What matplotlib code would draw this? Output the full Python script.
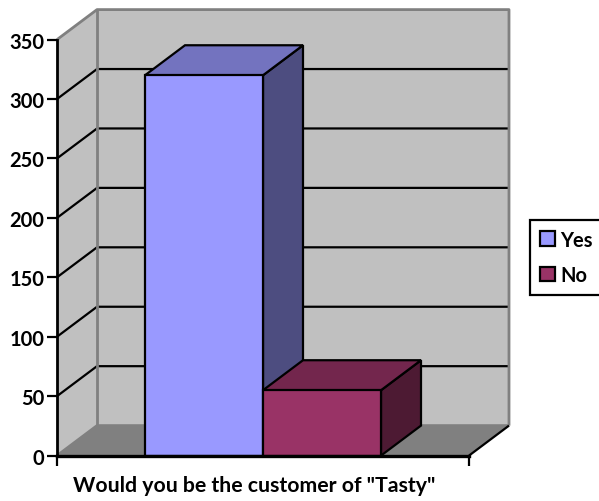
import matplotlib
matplotlib.use("Agg")
import matplotlib.pyplot as plt
from matplotlib.patches import Patch, Polygon

plt.rcParams["font.family"] = ["Lato", "DejaVu Sans"]
plt.rcParams["font.weight"] = "bold"

series = ["Yes", "No"]
values = [320, 55]
yticks = [0, 50, 100, 150, 200, 250, 300, 350]
xlabel = 'Would you be the customer of "Tasty"'

front = ["#9999FF", "#993366"]
top = ["#7373BF", "#73264D"]
side = ["#4D4D80", "#4D1A33"]

W, H = 599, 502
DEPTH_X = 40 / 412
DEPTH_Y = 30 / (416 / 350)
BAR_W = 118 / 412
BAR_START = 88 / 412
LW = 1.6

fig = plt.figure(figsize=(W / 100, H / 100), dpi=100)
axes = fig.add_axes([57 / W, 1 - 456.6 / H, 412 / W, 416 / H])
axes.set_xlim(0, 1)
axes.set_ylim(0, 350)
axes.patch.set_visible(False)


def _poly(points, face, edge="black", lw=LW, z=2):
    axes.add_patch(Polygon(points, closed=True, facecolor=face, edgecolor=edge,
                           linewidth=lw, joinstyle="miter", clip_on=False,
                           zorder=z))


def _line(xs, ys, color="black", lw=LW, z=1.5):
    axes.plot(xs, ys, color=color, linewidth=lw, clip_on=False, zorder=z,
              solid_capstyle="butt")


ymax = yticks[-1]

# walls and floor
_poly([(0, 0), (DEPTH_X, DEPTH_Y), (DEPTH_X, ymax + DEPTH_Y), (0, ymax)],
      "#C0C0C0", edge="none", z=1)
_poly([(DEPTH_X, DEPTH_Y), (1 + DEPTH_X, DEPTH_Y),
       (1 + DEPTH_X, ymax + DEPTH_Y), (DEPTH_X, ymax + DEPTH_Y)],
      "#C0C0C0", edge="none", z=1)
_poly([(0, 0), (1, 0), (1 + DEPTH_X, DEPTH_Y), (DEPTH_X, DEPTH_Y)],
      "#808080", edge="none", z=1.2)

for tick in yticks[1:-1]:
    _line([0, DEPTH_X, 1 + DEPTH_X],
          [tick, tick + DEPTH_Y, tick + DEPTH_Y])

gray = "#808080"
_line([0, DEPTH_X, 1 + DEPTH_X, 1 + DEPTH_X],
      [ymax, ymax + DEPTH_Y, ymax + DEPTH_Y, DEPTH_Y], color=gray, lw=2)
_line([DEPTH_X, DEPTH_X], [DEPTH_Y, ymax + DEPTH_Y], color=gray, lw=2)
_line([0, DEPTH_X, 1 + DEPTH_X], [0, DEPTH_Y, DEPTH_Y], color=gray, lw=2)
_line([1, 1 + DEPTH_X], [0, DEPTH_Y], lw=LW)

# bars
for i, value in enumerate(values):
    x0 = BAR_START + i * BAR_W
    x1 = x0 + BAR_W
    _poly([(x1, 0), (x1 + DEPTH_X, DEPTH_Y), (x1 + DEPTH_X, value + DEPTH_Y),
           (x1, value)], side[i], z=3 + i)
    _poly([(x0, value), (x1, value), (x1 + DEPTH_X, value + DEPTH_Y),
           (x0 + DEPTH_X, value + DEPTH_Y)], top[i], z=3 + i)
    _poly([(x0, 0), (x1, 0), (x1, value), (x0, value)], front[i], z=3 + i)

# axes
for name in ["top", "right"]:
    axes.spines[name].set_visible(False)
axes.spines["left"].set_linewidth(2)
axes.spines["left"].set_zorder(6)
axes.spines["bottom"].set_linewidth(2.4)
axes.spines["bottom"].set_zorder(6)
axes.set_yticks(yticks)
axes.set_xticks([0, 1], labels=["", ""])
axes.tick_params(axis="y", length=7, width=1.6, labelsize=14.5, pad=2)
axes.tick_params(axis="x", length=7, width=1.6)
axes.set_xlabel(xlabel, fontsize=15.3, fontweight="bold", labelpad=3.5, x=0.478)

handles = [Patch(facecolor=c, edgecolor="black", linewidth=LW) for c in front]
legend = fig.legend(handles, series, loc="upper left",
                    bbox_to_anchor=(530 / W, 1 - 220.5 / H),
                    bbox_transform=fig.transFigure,
                    fontsize=14.5, fancybox=False, framealpha=1,
                    edgecolor="black", handlelength=0.72, handleheight=0.72,
                    handletextpad=0.3, labelspacing=0.78, borderpad=0.5,
                    borderaxespad=0)
legend.get_frame().set_linewidth(1.6)

fig.savefig("out.png", dpi=100)
